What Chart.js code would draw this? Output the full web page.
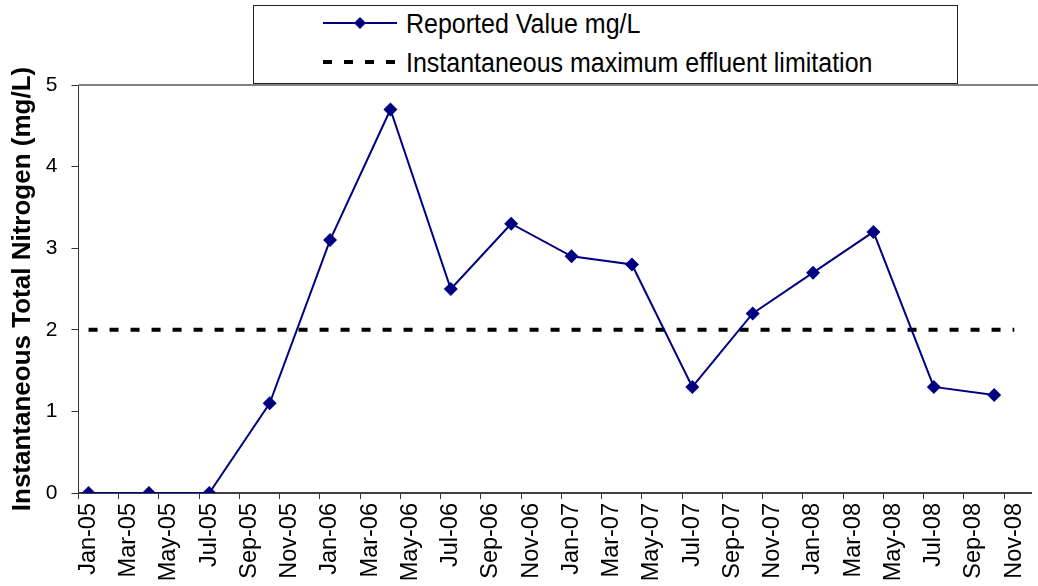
<!DOCTYPE html>
<html>
<head>
<meta charset="utf-8">
<script src="https://cdn.jsdelivr.net/npm/chart.js@4/dist/chart.umd.min.js"></script>
<style>
	body { margin: 0; background: #fff; }
	#wrap { position: relative; width: 1038px; height: 586px; }
	#legend {
		position: absolute; left: 253px; top: 5px; width: 703px; height: 77px;
		border: 1px solid #222; background: #fff;
		font-family: "Liberation Sans", Arial, sans-serif; font-size: 25px; color: #000;
	}
	.row { position: absolute; left: 68px; height: 30px; display: flex; align-items: center; }
	.row svg { margin-right: 8px; }
	.row span { display: inline-block; transform: scaleY(1.1); }
</style>
</head>
<body>
<div id="wrap">
	<canvas id="chart" width="1038" height="586"></canvas>
	<div id="legend">
		<div class="row" style="top:2px">
			<svg width="76" height="20"><line x1="1" y1="10" x2="75" y2="10" stroke="#000080" stroke-width="2"/><polygon points="38,4 44,10 38,16 32,10" fill="#000080"/></svg>
			<span>Reported Value mg/L</span>
		</div>
		<div class="row" style="top:41px">
			<svg width="76" height="20"><line x1="1" y1="10" x2="75" y2="10" stroke="#000" stroke-width="4" stroke-dasharray="9 12"/></svg>
			<span>Instantaneous maximum effluent limitation</span>
		</div>
	</div>
</div>
<script>
// quarterly samples
const sampleDates = ['Jan-05', 'Apr-05', 'Jul-05', 'Oct-05', 'Jan-06', 'Apr-06', 'Jul-06', 'Oct-06',
	'Jan-07', 'Apr-07', 'Jul-07', 'Oct-07', 'Jan-08', 'Apr-08', 'Jul-08', 'Oct-08'];
const reported = [0, 0, 0, 1.1, 3.1, 4.7, 2.5, 3.3, 2.9, 2.8, 1.3, 2.2, 2.7, 3.2, 1.3, 1.2];

const limitDates = ['Jan-05', 'Nov-08'];
const limitValue = 2;

const tickLabels = ['Jan-05', 'Mar-05', 'May-05', 'Jul-05', 'Sep-05', 'Nov-05',
	'Jan-06', 'Mar-06', 'May-06', 'Jul-06', 'Sep-06', 'Nov-06',
	'Jan-07', 'Mar-07', 'May-07', 'Jul-07', 'Sep-07', 'Nov-07',
	'Jan-08', 'Mar-08', 'May-08', 'Jul-08', 'Sep-08', 'Nov-08'];
const yTicks = [0, 1, 2, 3, 4, 5];

const monthNames = ['Jan', 'Feb', 'Mar', 'Apr', 'May', 'Jun', 'Jul', 'Aug', 'Sep', 'Oct', 'Nov', 'Dec'];
// months since Jan-05, centred in the month slot
function monthPos(s) {
	let parts = s.split('-');
	return (parseInt(parts[1], 10) - 5) * 12 + monthNames.indexOf(parts[0]) + 0.5;
}

Chart.defaults.font.family = '"Liberation Sans", Arial, sans-serif';
Chart.defaults.color = '#000';

const topBorder = {
	id: 'topBorder',
	afterDraw(chart) {
		const c = chart.ctx, a = chart.chartArea;
		c.save();
		c.strokeStyle = '#808080';
		c.lineWidth = 2;
		c.beginPath();
		c.moveTo(a.left, a.top);
		c.lineTo(chart.width, a.top);
		c.stroke();
		c.restore();
	}
};

new Chart(document.getElementById('chart').getContext('2d'), {
	type: 'line',
	data: {
		datasets: [
			{
				label: 'Reported Value mg/L',
				data: sampleDates.map((d, i) => ({ x: monthPos(d), y: reported[i] })),
				borderColor: '#000080',
				backgroundColor: '#000080',
				borderWidth: 2,
				pointStyle: 'rectRot',
				pointRadius: 7,
				pointBorderWidth: 0,
				tension: 0
			},
			{
				label: 'Instantaneous maximum effluent limitation',
				data: limitDates.map(d => ({ x: monthPos(d), y: limitValue })),
				borderColor: '#000',
				borderWidth: 4,
				borderDash: [9, 12],
				pointRadius: 0
			}
		]
	},
	options: {
		responsive: false,
		animation: false,
		layout: { padding: { top: 85, right: 0, left: 0, bottom: 0 } },
		plugins: { legend: { display: false }, tooltip: { enabled: false } },
		scales: {
			x: {
				type: 'linear',
				min: 0,
				max: 47.33,
				afterBuildTicks: function (scale) {
					scale.ticks = tickLabels.map((l, i) => ({ value: i * 2 }));
				},
				afterFit: function (scale) { scale.height = 93; },
				grid: { drawOnChartArea: false, drawTicks: true, tickLength: 6, color: '#333' },
				border: { display: true, color: '#404040', width: 2 },
				ticks: {
					autoSkip: false,
					minRotation: 90,
					maxRotation: 90,
					labelOffset: 10,
					padding: 4,
					font: { size: 23.5 },
					callback: function (v) { return tickLabels[Math.round(v / 2)]; }
				}
			},
			y: {
				min: 0,
				max: 5,
				afterBuildTicks: function (scale) {
					scale.ticks = yTicks.map(v => ({ value: v }));
				},
				afterFit: function (scale) { scale.width = 78.5; },
				grid: { drawOnChartArea: false, drawTicks: true, tickLength: 7, color: '#333' },
				border: { display: true, color: '#333', width: 1 },
				ticks: { padding: 14, font: { size: 21 } },
				title: {
					display: true,
					text: 'Instantaneous Total Nitrogen (mg/L)',
					font: { size: 26, weight: 'bold' },
					padding: { top: 7, bottom: 0 }
				}
			}
		}
	},
	plugins: [topBorder]
});
</script>
</body>
</html>
